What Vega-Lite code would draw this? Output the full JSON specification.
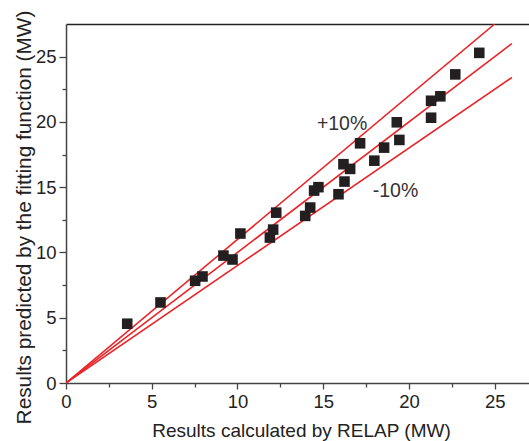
{
  "$schema": "https://vega.github.io/schema/vega-lite/v6.json",
  "width": 463,
  "height": 359,
  "autosize": {"type": "none"},
  "padding": {"left": 66, "top": 24, "right": 0, "bottom": 58},
  "background": "white",
  "config": {"view": {"stroke": null}, "font": "Liberation Sans"},
  "datasets": {
    "points": [
      {"x": 3.57, "y": 4.54},
      {"x": 5.51, "y": 6.17},
      {"x": 7.53, "y": 7.83},
      {"x": 7.96, "y": 8.16},
      {"x": 9.18, "y": 9.76},
      {"x": 9.71, "y": 9.46},
      {"x": 10.17, "y": 11.45},
      {"x": 11.89, "y": 11.14},
      {"x": 12.08, "y": 11.75},
      {"x": 12.26, "y": 13.05},
      {"x": 13.95, "y": 12.8},
      {"x": 14.24, "y": 13.44},
      {"x": 14.47, "y": 14.74},
      {"x": 14.72, "y": 15.0},
      {"x": 15.89, "y": 14.46},
      {"x": 16.24, "y": 15.43},
      {"x": 16.18, "y": 16.76},
      {"x": 16.57, "y": 16.4},
      {"x": 17.15, "y": 18.36},
      {"x": 17.98, "y": 17.03},
      {"x": 18.55, "y": 18.03},
      {"x": 19.29, "y": 19.97},
      {"x": 19.44, "y": 18.62},
      {"x": 21.29, "y": 20.32},
      {"x": 21.29, "y": 21.62},
      {"x": 21.83, "y": 21.96},
      {"x": 22.7, "y": 23.64},
      {"x": 24.1, "y": 25.29}
    ],
    "lines": [
      {"series": "+10%", "x": 0, "y": 0},
      {"series": "+10%", "x": 25, "y": 27.5},
      {"series": "ref", "x": 0, "y": 0},
      {"series": "ref", "x": 26, "y": 26},
      {"series": "-10%", "x": 0, "y": 0},
      {"series": "-10%", "x": 26, "y": 23.4}
    ],
    "labels": [
      {"text": "+10%", "x": 14.63, "y": 19.38},
      {"text": "-10%", "x": 17.89, "y": 14.23}
    ]
  },
  "layer": [
    {
      "data": {"name": "lines"},
      "mark": {"type": "line", "color": "#e8262a", "strokeWidth": 1.6, "clip": true},
      "encoding": {
        "x": {
          "field": "x", "type": "quantitative",
          "scale": {"domain": [0, 27], "nice": false, "zero": true},
          "axis": {
            "orient": "bottom",
            "values": [0, 2.5, 5, 7.5, 10, 12.5, 15, 17.5, 20, 22.5, 25],
            "labelExpr": "datum.value % 5 === 0 ? datum.label : ''",
            "grid": false,
            "domainColor": "#444444", "domainWidth": 1.5,
            "tickColor": "#444444", "tickWidth": 1.3,
            "tickSize": {"condition": {"test": "datum.value % 5 === 0", "value": 6}, "value": 4},
            "labelFontSize": 18.5, "labelColor": "#222222", "labelPadding": 3,
            "labelFlush": false, "labelOverlap": false,
            "title": "Results calculated by RELAP (MW)",
            "titleFontSize": 19, "titleFontWeight": "normal", "titleColor": "#222222",
            "titleBaseline": "alphabetic", "titleY": 53.7, "titleX": 235
          }
        },
        "y": {
          "field": "y", "type": "quantitative",
          "scale": {"domain": [0, 27.5], "nice": false, "zero": true},
          "axis": {
            "orient": "left",
            "values": [0, 2.5, 5, 7.5, 10, 12.5, 15, 17.5, 20, 22.5, 25],
            "labelExpr": "datum.value % 5 === 0 ? datum.label : ''",
            "grid": false,
            "domainColor": "#444444", "domainWidth": 1.5,
            "tickColor": "#444444", "tickWidth": 1.3,
            "tickSize": {"condition": {"test": "datum.value % 5 === 0", "value": 7}, "value": 4},
            "labelFontSize": 18.5, "labelColor": "#222222", "labelPadding": 3,
            "labelFlush": false, "labelOverlap": false,
            "title": "Results predicted by the fitting function (MW)",
            "titleFontSize": 20.8, "titleFontWeight": "normal", "titleColor": "#222222",
            "titleBaseline": "alphabetic", "titleAngle": 270, "titleAlign": "center",
            "titleX": -36, "titleY": 193
          }
        },
        "detail": {"field": "series"}
      }
    },
    {
      "data": {"name": "points"},
      "mark": {"type": "square", "size": 112, "color": "#231f20", "opacity": 1},
      "encoding": {
        "x": {
          "field": "x", "type": "quantitative",
          "axis": {"orient": "top", "grid": false, "ticks": false, "labels": false, "title": null, "domainColor": "#222222", "domainWidth": 1.5}
        },
        "y": {"field": "y", "type": "quantitative", "axis": null}
      }
    },
    {
      "data": {"name": "labels"},
      "mark": {"type": "text", "align": "left", "baseline": "alphabetic", "fontSize": 19.5, "color": "#333333"},
      "encoding": {
        "x": {"field": "x", "type": "quantitative", "axis": null},
        "y": {"field": "y", "type": "quantitative", "axis": null},
        "text": {"field": "text", "type": "nominal"}
      }
    }
  ],
  "resolve": {"axis": {"x": "independent", "y": "independent"}}
}
